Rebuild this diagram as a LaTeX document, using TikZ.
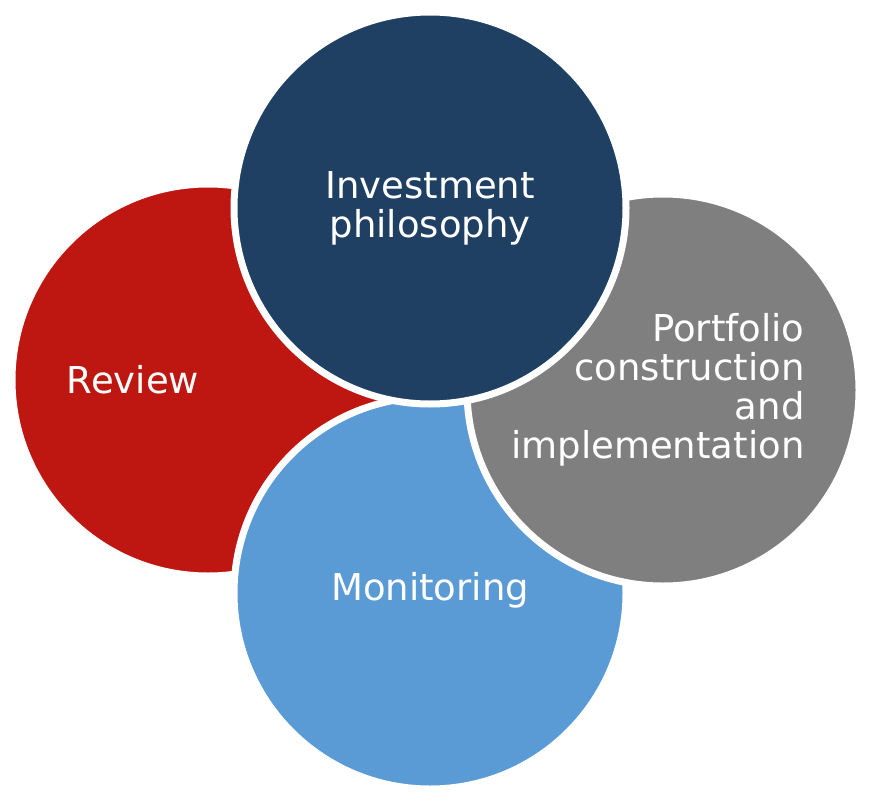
\documentclass[tikz,border=0pt]{standalone}
\usepackage{fontspec}
\setmainfont{DejaVu Sans}
\definecolor{reviewred}{HTML}{BE1711}
\definecolor{philblue}{HTML}{1F3F63}
\definecolor{portgray}{HTML}{7F7F7F}
\definecolor{monblue}{HTML}{5B9BD5}
\tikzset{
 disc/.style={circle,draw=white,line width=7pt,minimum size=392pt,inner sep=0pt},
 lbl/.style={text=white,font=\fontsize{37}{39}\selectfont,align=center}
}
\begin{document}
\begin{tikzpicture}[x=1pt,y=-1pt]
\useasboundingbox (0,0) rectangle (872,800);
% circles, back to front
\node[disc,fill=reviewred] (review) at (208,380) {};
\node[disc,fill=monblue] (monitoring) at (430,593) {};
\node[disc,fill=portgray] (portfolio) at (663,390) {};
\node[disc,fill=philblue] (philosophy) at (430,208) {};
% labels
\node[lbl] (reviewtxt) at (133,380) {Review};
\node[lbl] (philtxt) at (430,208) {Investment\\philosophy};
\node[lbl,align=right,anchor=east] (porttxt) at (808,390) {Portfolio\\construction\\and\\implementation};
\node[lbl] (montxt) at (430,590) {Monitoring};
\end{tikzpicture}
\end{document}
